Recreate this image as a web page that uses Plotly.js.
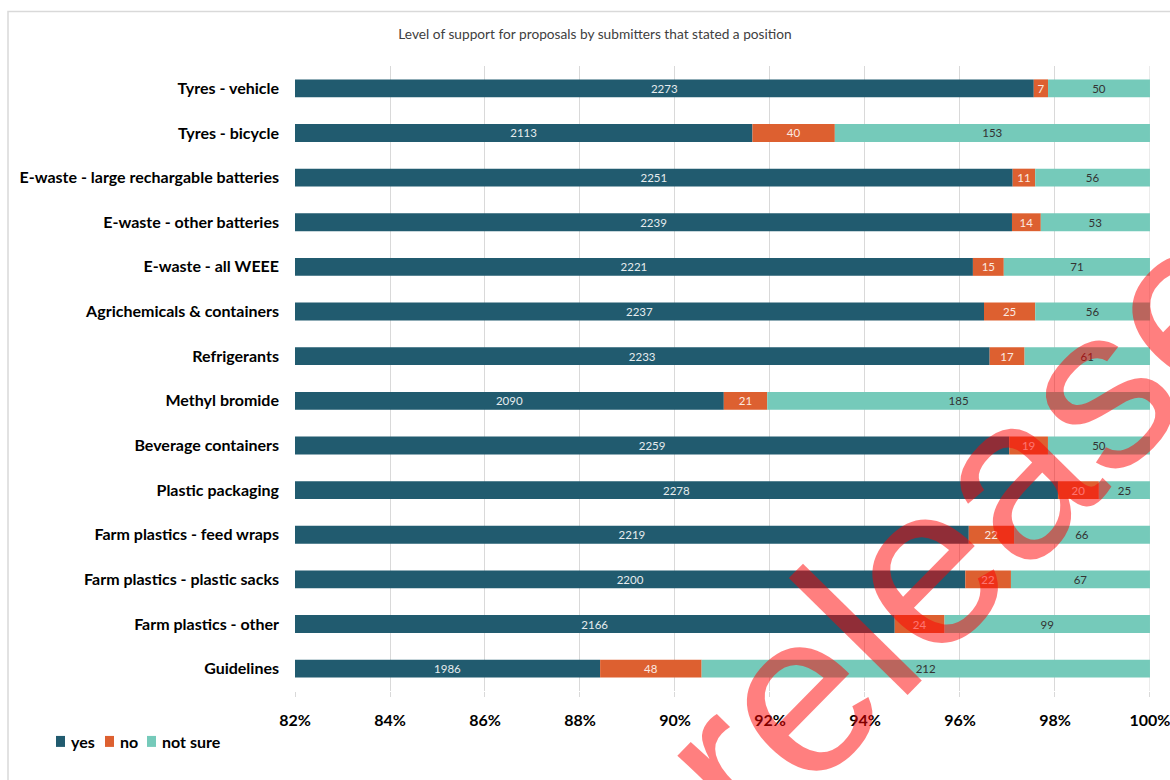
<!DOCTYPE html>
<html>
<head>
<meta charset="utf-8">
<script src="https://cdn.plot.ly/plotly-3.0.1.min.js"></script>
<style>
  html, body { margin: 0; padding: 0; background: #ffffff; }
  #chart { width: 1170px; height: 780px; }
</style>
</head>
<body>
<div id="chart"></div>
<script>
// ---- Data (counts) ----
const categories = [
  "Tyres - vehicle",
  "Tyres - bicycle",
  "E-waste - large rechargable batteries",
  "E-waste - other batteries",
  "E-waste - all WEEE",
  "Agrichemicals & containers",
  "Refrigerants",
  "Methyl bromide",
  "Beverage containers",
  "Plastic packaging",
  "Farm plastics - feed wraps",
  "Farm plastics - plastic sacks",
  "Farm plastics - other",
  "Guidelines"
];
const yesCounts     = [2273, 2113, 2251, 2239, 2221, 2237, 2233, 2090, 2259, 2278, 2219, 2200, 2166, 1986];
const noCounts      = [7,    40,   11,   14,   15,   25,   17,   21,   19,   20,   22,   22,   24,   48];
const notSureCounts = [50,   153,  56,   53,   71,   56,   61,   185,  50,   25,   66,   67,   99,   212];
const seriesNames = ["yes", "no", "not sure"];
const xTickVals = [82, 84, 86, 88, 90, 92, 94, 96, 98, 100];
const chartTitle = "Level of support for proposals by submitters that stated a position";
const watermarkText = "released";

// ---- Layout constants ----
const W = 1170, H = 780;
const M = { l: 295, r: 20, t: 65.5, b: 88.5 };
const plotW = W - M.l - M.r, plotH = H - M.t - M.b;
const xMin = xTickVals[0], xMax = xTickVals[xTickVals.length - 1];
const px2paperX = px => (px - M.l) / plotW;
const py2paperY = py => (H - M.b - py) / plotH;

// ---- Percent shares (100% stacked) ----
const totals = yesCounts.map((v, i) => v + noCounts[i] + notSureCounts[i]);
const yesPct = yesCounts.map((v, i) => 100 * v / totals[i]);
const noPct = noCounts.map((v, i) => 100 * v / totals[i]);
const nsPct = notSureCounts.map((v, i) => 100 * v / totals[i]);

const colors = ["#215B6F", "#DD6030", "#75CABA"];
const FONT = "Lato, 'Open Sans', sans-serif";
const labelFont = { family: FONT, size: 11.5 };

function barTrace(i, base, len, counts, txtColor) {
  return {
    type: "bar", orientation: "h", name: seriesNames[i],
    y: categories, base: base, x: len,
    text: counts.map(String),
    marker: { color: colors[i], line: { width: 0 } },
    textposition: "inside", insidetextanchor: "middle", textangle: 0, constraintext: "none",
    textfont: Object.assign({ color: txtColor }, labelFont),
    hoverinfo: "skip", showlegend: false
  };
}

// The yes segment starts at the left edge of the visible range, so its label
// sits in the middle of the visible part, as in the reference.
const traces = [
  barTrace(0, yesPct.map(() => xMin), yesPct.map(p => p - xMin), yesCounts, "#E6ECEE"),
  barTrace(1, yesPct, noPct, noCounts, "#FBE9E1"),
  barTrace(2, yesPct.map((p, i) => p + noPct[i]), nsPct, notSureCounts, "#333333")
];

// ---- Legend drawn at the bottom-left (swatch + label) ----
const legendY = 742;
const legendSwatchX = [56, 105, 147];
const legendShapes = seriesNames.map((n, i) => ({
  type: "rect", xref: "paper", yref: "paper", layer: "above",
  x0: px2paperX(legendSwatchX[i]), x1: px2paperX(legendSwatchX[i] + 9),
  y0: py2paperY(legendY + 5.5), y1: py2paperY(legendY - 5.5),
  line: { width: 0 }, fillcolor: colors[i]
}));
const legendAnns = seriesNames.map((n, i) => ({
  text: n, xref: "paper", yref: "paper",
  x: px2paperX(legendSwatchX[i] + 13), y: py2paperY(legendY),
  xanchor: "left", yanchor: "middle", showarrow: false,
  font: { family: FONT, size: 16, color: "#000000", weight: "bold" }
}));

const layout = {
  width: W, height: H,
  margin: M,
  paper_bgcolor: "#ffffff",
  plot_bgcolor: "#ffffff",
  barmode: "overlay",
  bargap: 0.6,
  showlegend: false,
  font: { family: FONT, color: "#000000" },
  title: {
    text: chartTitle,
    x: 595 / W, xref: "container", xanchor: "center",
    y: 1 - 34 / H, yref: "container", yanchor: "middle",
    font: { family: FONT, size: 13.7, color: "#404040" }
  },
  xaxis: {
    range: [xMin, xMax + 0.0005],
    tickvals: xTickVals,
    ticktext: xTickVals.map(v => v + "%"),
    showgrid: true, gridcolor: "#D9D9D9", gridwidth: 1,
    zeroline: false, showline: false,
    ticks: "outside", ticklen: 5, tickcolor: "#D9D9D9",
    ticklabelstandoff: 10,
    ticklabeloverflow: "allow",
    tickfont: { family: FONT, size: 16, color: "#000000", weight: "bold" },
    fixedrange: true
  },
  yaxis: {
    autorange: "reversed",
    showgrid: false, zeroline: false, showline: false,
    ticks: "", ticklabelstandoff: 15,
    tickfont: { family: FONT, size: 16, color: "#000000", weight: "bold" },
    fixedrange: true
  },
  shapes: [
    {
      type: "rect", xref: "paper", yref: "paper", layer: "below",
      x0: px2paperX(8), x1: px2paperX(1180),
      y0: py2paperY(800), y1: py2paperY(11),
      line: { color: "#D9D9D9", width: 1.5 }, fillcolor: "rgba(0,0,0,0)"
    },
    {
      type: "line", xref: "x", yref: "paper", layer: "below",
      x0: xMax, x1: xMax, y0: 0, y1: 1,
      line: { color: "#D9D9D9", width: 1 }
    }
  ].concat(legendShapes),
  annotations: legendAnns.concat([
    {
      text: watermarkText,
      xref: "paper", yref: "paper",
      x: px2paperX(1006), y: py2paperY(482),
      xanchor: "center", yanchor: "middle",
      showarrow: false, textangle: -45.5,
      font: { family: "'Liberation Sans', Arial, sans-serif", size: 230, color: "rgba(255,0,0,0.5)" }
    }
  ])
};

Plotly.newPlot("chart", traces, layout, { staticPlot: true, displayModeBar: false });
</script>
</body>
</html>
